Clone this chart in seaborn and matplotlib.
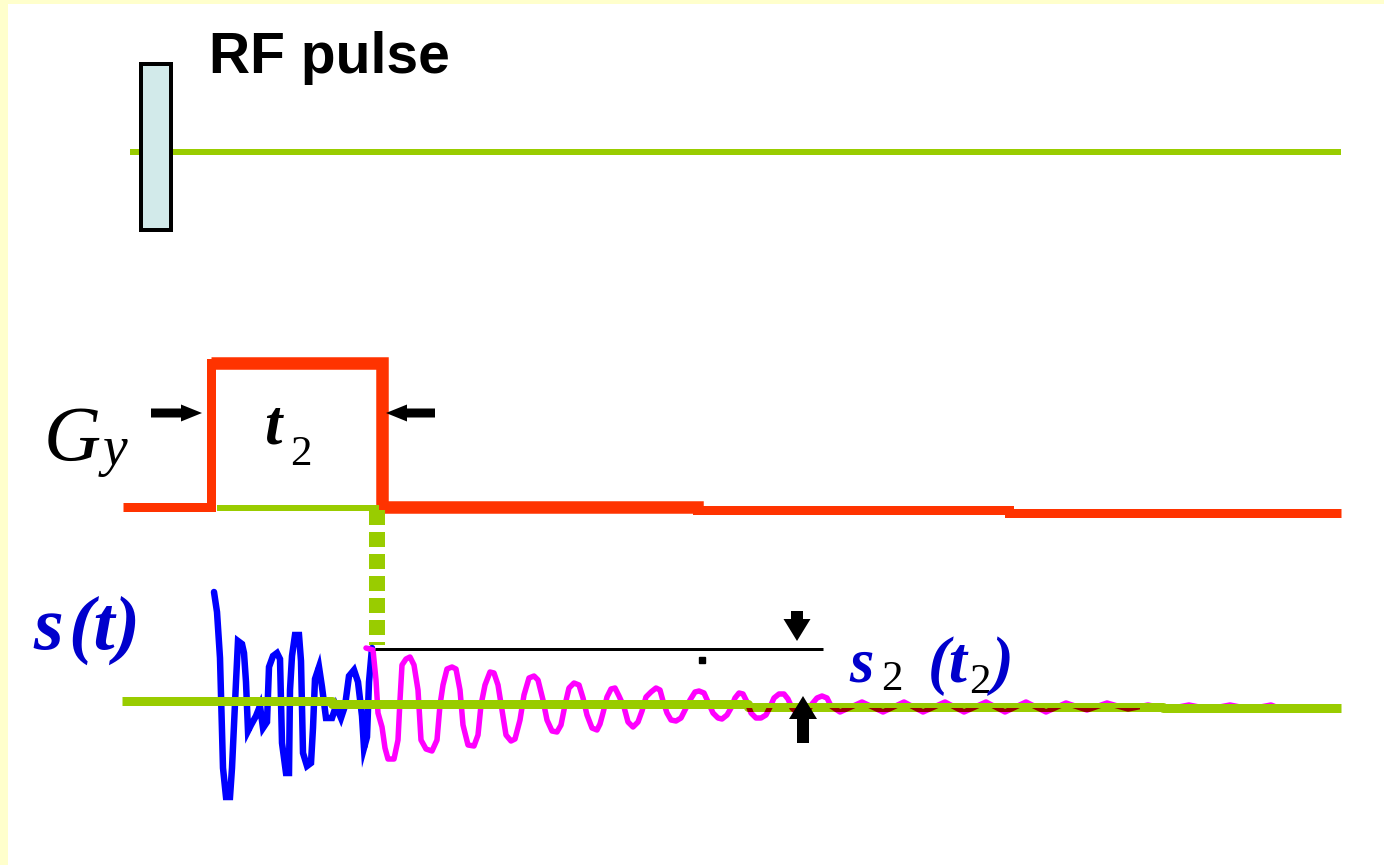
import matplotlib
matplotlib.use("Agg")
import matplotlib.pyplot as plt
import seaborn as sns
from matplotlib.patches import Rectangle

# ---------------- data (pixel units) ----------------
# RF channel
rf_axis_t = [130, 1341]
rf_axis_v = [152, 152]
rf_pulse_t = [141, 171]          # left / right edge of RF block
rf_pulse_v = [64, 230]           # top / bottom of RF block

# Gy gradient channel (step levels)
gy_t = [123, 210.5, 381.5, 697, 1009, 1341]
gy_v = [506.5, 363, 506.5, 509.5, 512.5, 512.5]
gy_zero_t = [217, 379]
gy_zero_v = [508, 508]
t2_marker_t = [377, 377]
t2_marker_v = [510, 645]

# signal channel axis (step levels)
sig_axis_t = [122, 332, 748, 1163, 1341]
sig_axis_v = [700.5, 703.5, 706.5, 707.5, 707.5]

# blue FID s(t)
fid_t = [214, 217, 220, 223, 226, 230, 232, 234, 236, 238, 242, 244, 246, 248,
         251, 256, 260, 263, 267, 269, 273, 277, 280, 282, 286, 289, 290, 292,
         295, 299, 301, 303, 307, 311, 313, 315, 319, 322, 326, 332, 336, 341,
         345, 349, 354, 358, 362, 364, 367, 369, 372]
fid_v = [592, 612, 658, 768, 797, 797, 768, 725, 682, 641, 644, 653, 682, 731,
         725, 716, 706, 728, 722, 667, 656, 653, 659, 743, 773, 773, 690, 656,
         635, 635, 661, 753, 766, 763, 728, 679, 667, 687, 718, 718, 706, 718,
         706, 676, 670, 682, 716, 748, 737, 682, 648]

# magenta s2(t2) oscillation
s2_t = [366, 373, 376, 378, 382, 385, 388, 394, 398, 400, 402, 406, 410, 414,
        418, 421, 426, 432, 437, 440, 443, 447, 452, 456, 460, 463, 468, 474,
        478, 481, 485, 490, 494, 498, 502, 506, 511, 515, 520, 524, 529, 534,
        538, 543, 547, 552, 557, 561, 565, 569, 574, 579, 583, 587, 592, 597,
        600, 603, 607, 611, 615, 619, 624, 628, 633, 638, 642, 646, 651, 656,
        660, 663, 667, 671, 676, 681, 685, 690, 695, 699, 704, 708, 713, 718,
        722, 727, 731, 735, 739, 743, 747, 751, 756, 761, 766, 770, 774, 779,
        784, 788, 792, 797, 802, 807, 812, 817, 822, 827, 831,
        840, 862, 883, 904, 923, 945, 964, 986, 1005, 1026, 1046, 1066, 1087,
        1107, 1128, 1148, 1168, 1189, 1209, 1230, 1250, 1271, 1276]
s2_v = [648, 650, 680, 713, 727, 748, 759, 759, 740, 700, 665, 659, 657, 665,
        690, 740, 749, 751, 740, 705, 685, 669, 667, 669, 690, 725, 745, 746,
        735, 705, 685, 672, 673, 685, 710, 735, 741, 739, 720, 695, 678, 676,
        680, 700, 720, 731, 732, 725, 705, 688, 683, 685, 698, 715, 728, 730,
        724, 713, 697, 689, 688, 696, 707, 722, 727, 722, 711, 697, 692, 688,
        690, 701, 713, 720, 721, 718, 710, 700, 692, 691, 693, 702, 713, 718,
        719, 715, 708, 698, 693, 694, 702, 713, 718, 718, 715, 707, 698, 694,
        694, 699, 708, 713, 714, 712, 704, 698, 696, 698, 706,
        712, 702, 712, 702, 712, 702, 712, 702, 712, 702, 712, 703, 710,
        703, 709, 705, 709, 705, 709, 705, 709, 705, 707]

# s2 amplitude reference line and dot
ref_line_t = [375, 823]
ref_line_v = [648.5, 648.5]
ref_dot = (702, 660)

# arrows: (tail_x, tail_y, tip_x, tip_y, shaft width, head width, head length)
arrows = [
    (151, 413, 202, 413, 9, 17, 21),
    (435, 413, 386, 413, 9, 17, 21),
    (797, 611, 797, 641, 12, 27, 22),
    (803, 743, 803, 696, 12, 28, 23),
]

# ---------------- styling ----------------
GREEN = "#99CC00"
RED = "#FF3300"
BLUE = "#0000FF"
TBLUE = "#0000CC"
PINK = "#FF00FF"
PT = 0.72  # points per pixel at dpi 100

sns.set_theme(style="white")
plt.rcParams["font.family"] = ["Liberation Sans", "DejaVu Sans"]
plt.rcParams["lines.scale_dashes"] = False

fig = plt.figure(figsize=(13.84, 8.65), dpi=100, facecolor="#FFFFCC")
ax = fig.add_axes([8 / 1384, 0, 1376 / 1384, 861 / 865])
ax.set_xlim(8, 1384)
ax.set_ylim(865, 4)
ax.set_facecolor("white")
ax.set_xticks([])
ax.set_yticks([])
for s in ax.spines.values():
    s.set_visible(False)


def line(x, y, color, lw_px, z, **kw):
    sns.lineplot(x=x, y=y, color=color, linewidth=lw_px * PT, sort=False,
                 estimator=None, ax=ax, zorder=z, legend=False, **kw)


# RF channel
line(rf_axis_t, rf_axis_v, GREEN, 6, 2, solid_capstyle="butt")
ax.add_patch(Rectangle((rf_pulse_t[0], rf_pulse_v[0]), rf_pulse_t[1] - rf_pulse_t[0],
                       rf_pulse_v[1] - rf_pulse_v[0], facecolor="#D2EAEA",
                       edgecolor="black", lw=4 * PT, zorder=5))

# Gy channel
line(gy_t, gy_v, RED, 9, 3, drawstyle="steps-post", solid_capstyle="butt",
     solid_joinstyle="miter")
line(gy_t[1:4], gy_v[1:4], RED, 12.5, 3, drawstyle="steps-post",
     solid_capstyle="butt", solid_joinstyle="miter")
line(gy_zero_t, gy_zero_v, GREEN, 6, 4, solid_capstyle="butt")
ax.plot(t2_marker_t, t2_marker_v, color=GREEN, lw=16 * PT,
        linestyle=(0, (15 * PT, 7 * PT)), solid_capstyle="butt",
        dash_capstyle="butt", zorder=4)

# signals
line(fid_t, fid_v, BLUE, 6.5, 5, solid_joinstyle="miter")
line(s2_t, s2_v, PINK, 5.5, 6)
line(sig_axis_t, sig_axis_v, GREEN, 9, 7, drawstyle="steps-post",
     solid_capstyle="butt")
dark = ax.plot(s2_t, s2_v, color="#990000", lw=5.5 * PT, zorder=7.5)[0]
clip = Rectangle((745, 707.5), 395, 4, transform=ax.transData)
dark.set_clip_path(clip)

line(ref_line_t, ref_line_v, "black", 3, 8, solid_capstyle="butt")
ax.plot([ref_dot[0]], [ref_dot[1]], marker="s", markersize=6 * PT,
        color="black", zorder=8)

for (x0, y0, x1, y1, w, hw, hl) in arrows:
    ax.arrow(x0, y0, x1 - x0, y1 - y0, width=w, head_width=hw, head_length=hl,
             length_includes_head=True, lw=0, color="black", zorder=9)

# texts
ax.text(209, 73, "RF pulse", fontsize=41, fontweight="bold",
        family=["Liberation Sans", "DejaVu Sans"], va="baseline", ha="left",
        color="black", zorder=10)
serif = ["Liberation Serif", "DejaVu Serif"]
ax.text(44, 460, "G", fontsize=57, style="italic", family=serif,
        va="baseline", ha="left", color="black", zorder=10)
ax.text(103, 465, "y", fontsize=40, style="italic", family=serif,
        va="baseline", ha="left", color="black", zorder=10)
ax.text(264, 443, "t", fontsize=45, style="italic", fontweight="bold",
        family=serif, va="baseline", ha="left", color="black", zorder=10)
ax.text(290, 465, "2", fontsize=31, family=serif, va="baseline", ha="left",
        color="black", zorder=10)
ax.text(33, 649, "s", fontsize=55, style="italic", fontweight="bold",
        family=serif, va="baseline", ha="left", color=TBLUE, zorder=10)
ax.text(68, 649, "(t)", fontsize=55, style="italic", fontweight="bold",
        family=serif, va="baseline", ha="left", color=TBLUE, zorder=10)
ax.text(849, 682, "s", fontsize=45, style="italic", fontweight="bold",
        family=serif, va="baseline", ha="left", color=TBLUE, zorder=10)
ax.text(881, 690, "2", fontsize=31, family=serif, va="baseline", ha="left",
        color="black", zorder=10)
ax.text(928, 682, "(t", fontsize=47, style="italic", fontweight="bold",
        family=serif, va="baseline", ha="left", color=TBLUE, zorder=10)
ax.text(969, 693, "2", fontsize=31, family=serif, va="baseline", ha="left",
        color="black", zorder=10)
ax.text(992, 682, ")", fontsize=47, style="italic", fontweight="bold",
        family=serif, va="baseline", ha="left", color=TBLUE, zorder=10)

fig.savefig("out.png", dpi=100, facecolor=fig.get_facecolor())
